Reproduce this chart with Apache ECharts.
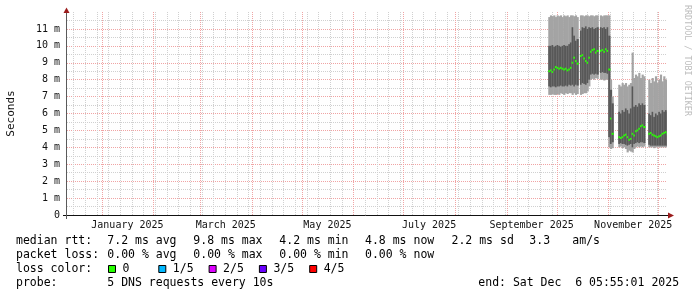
<!DOCTYPE html>
<html>
<head>
<meta charset="utf-8">
<script src="https://cdn.jsdelivr.net/npm/echarts@6.0.0/dist/echarts.min.js"></script>
<style>
html,body{margin:0;padding:0;background:#ffffff;}
#chart{width:697px;height:297px;}
</style>
</head>
<body>
<div id="chart"></div>
<script>
// ---- data (ms), one column per day starting at firstDay ----
const firstDay = '2025-09-26';
const smokeMin  = [7.1,7.1,7.15,7.1,7.1,7.15,7.1,7.2,7.15,7.1,7.2,7.15,7.2,7.2,7.1,7.2,7.1,7.15,null,7.1,
  7.15,7.2,7.2,7.3,7.6,8.0,8.05,8.0,8.1,8.05,null,8.0,8.0,7.95,8.0,8.0,4.0,3.9,3.95,null,
  null,null,4.0,4.05,3.95,4.0,3.9,3.7,3.8,3.75,3.7,3.9,4.0,4.05,4.0,4.05,4.0,4.05,null,null,
  4.0,4.0,4.0,3.95,4.0,4.0,4.0,4.0,4.0,4.0,4.0,4.0];
const smokeLow  = [7.6,7.55,7.6,7.6,7.55,7.6,7.6,7.65,7.6,7.6,7.65,7.6,7.7,7.65,7.7,7.6,7.7,7.65,null,7.7,
  7.8,7.75,7.7,7.8,8.0,8.3,8.35,8.3,8.35,8.3,null,8.4,8.45,8.4,8.4,8.35,4.6,4.2,4.3,null,
  null,null,4.2,4.25,4.2,4.2,4.15,4.1,4.15,4.2,4.0,4.2,4.25,4.3,4.25,4.3,4.3,4.25,null,null,
  4.15,4.1,4.1,4.1,4.1,4.1,4.1,4.1,4.1,4.1,4.1,4.1];
const median    = [8.5,8.55,8.45,8.6,8.75,8.7,8.65,8.7,8.65,8.6,8.65,8.55,8.6,8.7,9.0,9.3,9.1,8.95,null,9.4,
  9.45,9.25,9.1,9.0,9.3,9.65,9.75,9.8,9.6,9.7,null,9.7,9.75,9.65,9.8,9.7,8.6,5.7,4.8,null,
  null,null,4.6,4.55,4.6,4.7,4.75,4.6,4.45,4.5,4.8,4.7,4.95,5.0,5.1,5.25,5.3,5.2,null,null,
  4.8,4.85,4.75,4.7,4.65,4.6,4.65,4.7,4.8,4.85,4.9,4.8];
const smokeHigh = [10.0,10.0,10.05,9.95,10.0,10.05,10.0,9.95,10.0,10.05,10.0,10.0,10.1,10.2,11.1,10.6,10.3,10.4,null,10.9,
  11.1,11.05,11.15,11.0,11.1,11.05,11.1,11.0,11.05,11.1,null,11.1,11.05,11.1,11.0,11.1,10.6,7.4,6.6,null,
  null,null,6.1,6.0,6.2,6.1,6.3,6.2,6.0,6.3,7.6,6.4,6.5,6.4,6.6,6.5,6.6,6.5,null,null,
  6.0,5.9,6.1,5.8,6.0,5.9,6.1,6.0,6.2,6.1,6.2,6.1];
const smokeMax  = [11.7,11.8,11.75,11.8,11.7,11.8,11.75,11.8,11.7,11.8,11.75,11.8,11.7,11.8,11.8,11.75,11.8,11.7,null,11.8,
  11.8,11.75,11.8,11.8,11.75,11.8,11.8,11.75,11.8,11.8,null,11.8,11.75,11.8,11.8,11.8,11.8,8.0,7.0,null,
  null,null,7.7,7.6,7.8,7.7,7.8,7.6,7.7,7.8,9.6,8.1,8.3,8.2,8.4,8.1,8.3,8.2,null,null,
  8.0,7.8,8.1,7.9,8.2,7.8,8.0,8.3,7.9,8.2,8.0,8.1];

const xTickLabels = ['January 2025','March 2025','May 2025','July 2025','September 2025','November 2025'];
const xTickMonths = [0, 2, 4, 6, 8, 10]; // months of 2025
const lossLabels = ['0', '1/5', '2/5', '3/5', '4/5'];
const lossColors = ['#26ff00', '#00b8ff', '#dd00ff', '#6a00ff', '#ff0000'];

// ---- build ----
const DAY = 86400000;
const xMin = Date.UTC(2024, 11, 11, 5, 55, 1);
const xMax = Date.UTC(2025, 11, 6, 5, 55, 1);
const t0 = Date.parse(firstDay + 'T00:00:00Z');

const smokeData = [];
for (let i = 0; i < median.length; i++) {
  if (median[i] === null) continue;
  smokeData.push([t0 + i * DAY, smokeMin[i], smokeLow[i], median[i], smokeHigh[i], smokeMax[i]]);
}

const labelValues = xTickMonths.map(m => {
  const a = Date.UTC(2025, m, 1), b = Date.UTC(2025, m + 1, 1);
  return (a + b) / 2;
});

// vertical grid: [time, 0 = weekly minor, 1 = month major]
const gridData = [];
for (let t = Date.UTC(2024, 11, 12); t <= xMax; t += DAY) {
  if (new Date(t).getUTCDay() === 0) gridData.push([t, 0]);
}
for (let m = 0; m < 12; m++) {
  const t = Date.UTC(2025, m, 1);
  if (t > xMin && t < xMax) gridData.push([t, 1]);
}

const FONT = '"DejaVu Sans Mono", monospace';
const MINOR = '#d0d0d0';
const MAJOR = '#f0a4a4';

function renderGrid(params, api) {
  const cs = params.coordSys;
  const x = Math.round(api.coord([api.value(0), 0])[0]) + 0.5;
  const major = api.value(1) === 1;
  return {
    type: 'line',
    shape: { x1: x, y1: cs.y, x2: x, y2: cs.y + cs.height },
    style: { stroke: major ? MAJOR : MINOR, lineWidth: 1, lineDash: [1, 1] },
    z2: major ? 2 : 1
  };
}

function renderSmoke(params, api) {
  const t = api.value(0);
  const w = api.size([DAY, 0])[0] + 0.5;
  const x = api.coord([t, 0])[0];
  const y1 = api.coord([t, api.value(1)])[1];
  const y2 = api.coord([t, api.value(2)])[1];
  const ym = api.coord([t, api.value(3)])[1];
  const y4 = api.coord([t, api.value(4)])[1];
  const y5 = api.coord([t, api.value(5)])[1];
  return {
    type: 'group',
    children: [
      { type: 'rect', shape: { x: x, y: y5, width: w, height: y1 - y5 }, style: { fill: '#a4a4a4' } },
      { type: 'rect', shape: { x: x, y: y4, width: w, height: y2 - y4 }, style: { fill: '#585858' } },
      { type: 'rect', shape: { x: x, y: ym - 1, width: w, height: 2 }, style: { fill: lossColors[0] } }
    ]
  };
}

const graphics = [];
function txt(x, y, s) {
  graphics.push({ type: 'text', x: x, y: y, silent: true,
    style: { text: s, font: '11.5px ' + FONT, fill: '#000', verticalAlign: 'middle', align: 'left' } });
}
txt(16, 241, 'median rtt:');
txt(107.3, 241, '7.2 ms avg');
txt(193.3, 241, '9.8 ms max');
txt(279.3, 241, '4.2 ms min');
txt(365, 241, '4.8 ms now');
txt(451.5, 241, '2.2 ms sd');
txt(529.3, 241, '3.3');
txt(572.3, 241, 'am/s');
txt(16, 255, 'packet loss:');
txt(107.3, 255, '0.00 % avg');
txt(193.3, 255, '0.00 % max');
txt(279.3, 255, '0.00 % min');
txt(365, 255, '0.00 % now');
txt(16, 269, 'loss color:');
for (let i = 0; i < lossLabels.length; i++) {
  const bx = 108.5 + i * 50.3;
  graphics.push({ type: 'rect', silent: true, shape: { x: bx, y: 265.5, width: 7, height: 7 },
    style: { fill: lossColors[i], stroke: '#000', lineWidth: 1 } });
  txt(bx + 14, 269, lossLabels[i]);
}
txt(16, 283, 'probe:');
txt(107.3, 283, '5 DNS requests every 10s');
txt(478.3, 283, 'end: Sat Dec  6 05:55:01 2025');
// watermark
graphics.push({ type: 'text', x: 687, y: 5, rotation: -Math.PI / 2, silent: true,
  style: { text: 'RRDTOOL / TOBI OETIKER', font: '8.4px ' + FONT, fill: '#bdbdbd', align: 'left', verticalAlign: 'middle' } });
// axis extensions and arrows
graphics.push({ type: 'line', silent: true, shape: { x1: 63, y1: 215.5, x2: 668, y2: 215.5 }, style: { stroke: '#111', lineWidth: 1 } });
graphics.push({ type: 'line', silent: true, shape: { x1: 66.5, y1: 12, x2: 66.5, y2: 219 }, style: { stroke: '#5a5a5a', lineWidth: 1 } });
graphics.push({ type: 'polygon', silent: true, shape: { points: [[66.5, 7.5], [63.5, 13], [69.5, 13]] }, style: { fill: '#9b1c1c' } });
graphics.push({ type: 'polygon', silent: true, shape: { points: [[674, 215.5], [668, 212.5], [668, 218.5]] }, style: { fill: '#9b1c1c' } });

const chart = echarts.init(document.getElementById('chart'), null, { renderer: 'canvas' });
chart.setOption({
  animation: false,
  backgroundColor: '#ffffff',
  textStyle: { fontFamily: FONT },
  grid: { left: 67, right: 30, top: 12, bottom: 82, containLabel: false, outerBoundsMode: 'none' },
  xAxis: {
    type: 'value', min: xMin, max: xMax,
    axisLine: { show: false },
    axisTick: { show: false },
    splitLine: { show: false },
    axisLabel: {
      customValues: labelValues,
      formatter: v => { const i = labelValues.indexOf(v); return i >= 0 ? xTickLabels[i] : ''; },
      fontFamily: FONT, fontSize: 10, color: '#111', margin: 5
    }
  },
  yAxis: {
    type: 'value', min: 0, max: 12, interval: 1,
    name: 'Seconds', nameLocation: 'middle', nameRotate: 90, nameGap: 50,
    nameTextStyle: { fontFamily: FONT, fontSize: 11, color: '#111' },
    axisLine: { show: false },
    axisTick: { show: false },
    axisLabel: { formatter: v => v === 0 ? '0' : v + ' m', fontFamily: FONT, fontSize: 10, color: '#111', margin: 7, showMaxLabel: false },
    splitLine: { show: true, showMaxLine: false, showMinLine: false, lineStyle: { color: MAJOR, type: [1, 1], width: 1 } },
    minorTick: { show: false, splitNumber: 2 },
    minorSplitLine: { show: true, lineStyle: { color: MINOR, type: [1, 1], width: 1 } }
  },
  series: [
    {
      type: 'custom', renderItem: renderGrid, data: gridData, silent: true, z: 1, clip: false,
      encode: { x: 0 }
    },
    {
      type: 'custom', renderItem: renderSmoke, data: smokeData, clip: true, z: 3, silent: true,
      encode: { x: 0, y: [1, 2, 3, 4, 5] }
    }
  ],
  graphic: graphics
});
</script>
</body>
</html>
